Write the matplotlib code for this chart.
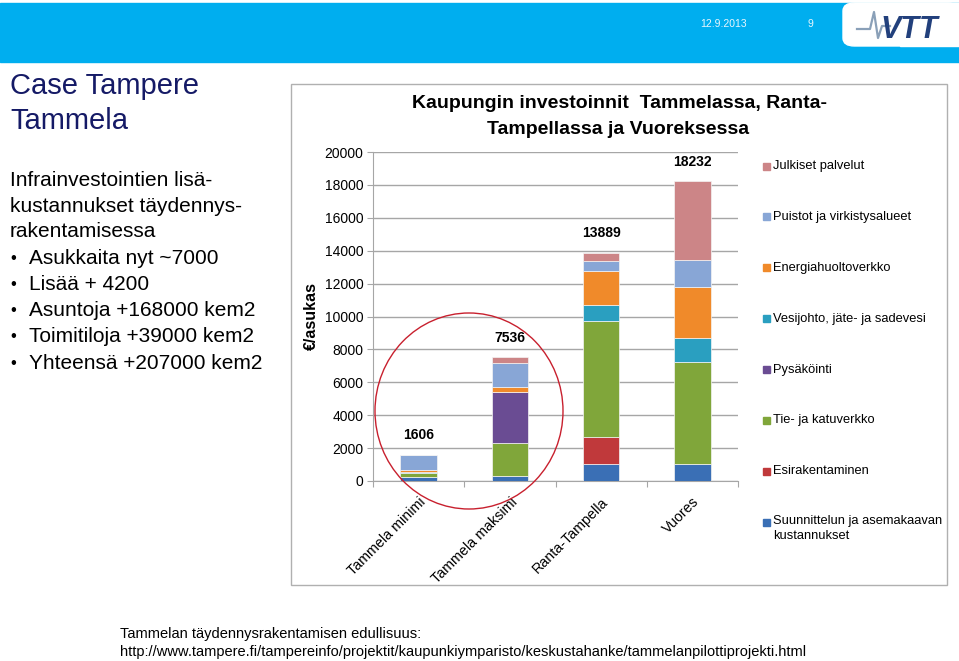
import matplotlib.pyplot as plt
import numpy as np
from matplotlib.patches import Rectangle, Ellipse, FancyBboxPatch
from matplotlib.lines import Line2D

plt.rcParams['font.family'] = ['Liberation Sans', 'DejaVu Sans']

# data (euro per resident)
categories = ['Tammela minimi', 'Tammela maksimi', 'Ranta-Tampella', 'Vuores']
totals = [1606, 7536, 13889, 18232]
series_names = ['Suunnittelun ja asemakaavan\nkustannukset', 'Esirakentaminen',
                'Tie- ja katuverkko', 'Pysäköinti', 'Vesijohto, jäte- ja sadevesi',
                'Energiahuoltoverkko', 'Puistot ja virkistysalueet', 'Julkiset palvelut']
suunnittelu = [250, 280, 1020, 1060]
esirakentaminen = [0, 0, 1680, 0]
tie = [250, 2020, 7000, 6160]
pysakointi = [0, 3080, 0, 0]
vesijohto = [60, 0, 980, 1470]
energia = [100, 350, 2100, 3120]
puistot = [900, 1460, 600, 1650]
julkiset = [46, 346, 509, 4772]
series_values = [suunnittelu, esirakentaminen, tie, pysakointi, vesijohto,
                 energia, puistot, julkiset]
colors = ['#3A6FB5', '#C0393B', '#80A63A', '#6A4C93', '#2A9FC0',
          '#F08A2A', '#88A6D6', '#CC8587']

W, H = 959, 661
fig = plt.figure(figsize=(W / 100, H / 100), dpi=100)

def fx(px):
    return px / W

def fy(py):
    return 1 - py / H

# slide header
fig.patches.append(Rectangle((0, fy(62)), 1, fy(3) - fy(62), transform=fig.transFigure,
                             color='#00AEEF', zorder=0))
fig.patches.append(FancyBboxPatch((fx(843), fy(46)), fx(959) - fx(843), fy(3) - fy(46),
                                  boxstyle='round,pad=0,rounding_size=0.012',
                                  transform=fig.transFigure, color='white', zorder=1))
fig.patches.append(Rectangle((fx(900), fy(46)), fx(60), fy(3) - fy(46),
                             transform=fig.transFigure, color='white', zorder=1))
fig.text(fx(700), fy(24), '12.9.2013', color='#E8F6FD', fontsize=7.5, va='center')
fig.text(fx(808), fy(24), '9', color='#E8F6FD', fontsize=7.5, va='center')
fig.text(fx(880), fy(30), 'VTT', color='#22407C', fontsize=22, fontweight='bold',
         style='italic', va='center', zorder=3)
fig.lines.append(Line2D([fx(857), fx(870), fx(874), fx(878), fx(882), fx(890)],
                        [fy(29), fy(29), fy(12), fy(38), fy(26), fy(26)],
                        transform=fig.transFigure, color='#8AA0B8', lw=1.6, zorder=3))

# left text block
fig.text(fx(10), fy(86), 'Case Tampere', fontsize=21, color='#151A66', va='center')
fig.text(fx(10), fy(121), 'Tammela', fontsize=21, color='#151A66', va='center')
body = ['Infrainvestointien lisä-', 'kustannukset täydennys-', 'rakentamisessa']
for i, line in enumerate(body):
    fig.text(fx(10), fy(181 + i * 25.3), line, fontsize=15, va='center')
bullets = ['Asukkaita nyt ~7000', 'Lisää + 4200', 'Asuntoja +168000 kem2',
           'Toimitiloja +39000 kem2', 'Yhteensä +207000 kem2']
for i, line in enumerate(bullets):
    y = fy(258 + i * 26.3)
    fig.text(fx(10), y, '•', fontsize=12, va='center')
    fig.text(fx(29), y, line, fontsize=15, va='center')

# chart frame
fig.patches.append(Rectangle((fx(291), fy(585)), fx(947 - 291), fy(84) - fy(585),
                             transform=fig.transFigure, facecolor='white',
                             edgecolor='#B0B0B0', lw=1, zorder=0))

fig.text(fx(620), fy(104), 'Kaupungin investoinnit  Tammelassa, Ranta-',
         fontsize=14, fontweight='bold', ha='center', va='center')
fig.text(fx(618), fy(129), 'Tampellassa ja Vuoreksessa',
         fontsize=14, fontweight='bold', ha='center', va='center')

ax = fig.add_axes([fx(373), fy(481), fx(738 - 373), fy(152) - fy(481)])
ax.set_zorder(2)
ax.set_facecolor('none')
x = np.arange(len(categories))
bottom = np.zeros(len(categories))
for name, vals, c in zip(series_names, series_values, colors):
    ax.bar(x, vals, 0.4, bottom=bottom, color=c, edgecolor='#F4F4F4', linewidth=0.5,
           label=name, zorder=3)
    bottom += np.array(vals)

for xi, t in zip(x, totals):
    ax.annotate(str(t), (xi, t), xytext=(0, 9), textcoords='offset points',
                ha='center', va='bottom', fontsize=10, fontweight='bold')

ax.set_xlim(-0.5, len(categories) - 0.5)
ax.set_ylim(0, 20000)
ax.set_yticks(np.arange(0, 20001, 2000))
ax.yaxis.grid(True, color='#A6A6A6', lw=1, zorder=0)
ax.set_xticks(np.arange(-0.5, len(categories), 1), minor=False)
ax.set_xticklabels([])
ax.set_xticks(x, minor=True)
ax.set_xticklabels(categories, minor=True, rotation=45, ha='right', va='top',
                   rotation_mode='anchor', fontsize=10.3)
ax.tick_params(axis='x', which='minor', length=0, pad=10)
ax.tick_params(axis='x', which='major', length=4, color='#A6A6A6')
ax.tick_params(axis='y', length=4, color='#A6A6A6', labelsize=10, pad=3)
for s in ['top', 'right']:
    ax.spines[s].set_visible(False)
for s in ['left', 'bottom']:
    ax.spines[s].set_color('#A6A6A6')
ax.set_ylabel('€/asukas', fontsize=11.5, fontweight='bold', labelpad=4)

# legend drawn by hand, top entry = last series
for i, (name, c) in enumerate(zip(series_names[::-1], colors[::-1])):
    yc = fy(166 + i * 50.9)
    fig.patches.append(Rectangle((fx(763), yc - 3.5 / H), fx(7), 7 / H,
                                 transform=fig.transFigure, color=c, zorder=3))
    if '\n' in name:
        fig.text(fx(773), yc + 7 / H, name, fontsize=9.3, va='top', linespacing=1.3)
    else:
        fig.text(fx(773), yc, name, fontsize=9.3, va='center')

# red circle around the Tammela bars
fig.patches.append(Ellipse((fx(469), fy(411)), fx(188), 196 / H, transform=fig.transFigure,
                           fill=False, edgecolor='#C8202E', lw=1, zorder=5))

url = 'http://www.tampere.fi/tampereinfo/projektit/kaupunkiymparisto/keskustahanke/tammelanpilottiprojekti.html'
fig.text(fx(120), fy(634), 'Tammelan täydennysrakentamisen edullisuus:',
         fontsize=10.5, va='center', family=['Liberation Sans Narrow', 'Liberation Sans'])
fig.text(fx(120), fy(652), url,
         fontsize=10.5, va='center', family=['Liberation Sans Narrow', 'Liberation Sans'])

fig.savefig('out.png', dpi=100)
